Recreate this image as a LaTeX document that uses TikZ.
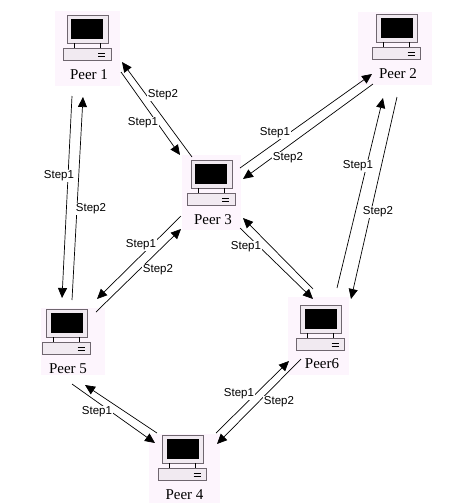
\documentclass[tikz,border=0pt]{standalone}
\usepackage{fontspec}
\setmainfont{Liberation Serif}
\newfontfamily\stepfont{Liberation Sans}
\usetikzlibrary{arrows.meta}

\definecolor{peerpink}{HTML}{FDF5FD}
\definecolor{peeredge}{HTML}{6F666F}
\definecolor{peerface}{HTML}{F1EAF1}

\tikzset{
  peerbox/.style={fill=peerpink,inner sep=0pt},
  peerlabel/.style={inner sep=0pt,font=\fontsize{15}{16}\selectfont},
  steplabel/.style={fill=white,inner sep=0.5pt,font=\stepfont\fontsize{11.5}{12}\selectfont},
  link/.style={line width=0.7pt,-{Triangle[length=10pt,width=9pt]}},
  computer/.pic={
    \draw[peeredge,fill=peerface,line width=0.8pt] (-20,0) rectangle (21,28);
    \fill[black] (-16,4) rectangle (16,24);
    \draw[black,line width=0.8pt] (-13,28) -- (-13,33);
    \draw[black,line width=0.8pt] (13,28) -- (13,33);
    \draw[peeredge,fill=peerface,line width=0.8pt] (-24,33) rectangle (24,45);
    \draw[black,line width=0.8pt] (11,38.5) -- (18,38.5);
    \draw[black,line width=0.8pt] (11,41.5) -- (18,41.5);
  }
}

\begin{document}
\begin{tikzpicture}[x=1pt,y=-1pt]
\useasboundingbox (0,0) rectangle (451,504);
\fill[white] (0,0) rectangle (451,504);

% Peers
\node[peerbox,minimum width=65pt,minimum height=75pt] (p1) at (87.5,48.5) {};
\node[peerbox,minimum width=74pt,minimum height=73pt] (p2) at (395,48.5) {};
\node[peerbox,minimum width=59pt,minimum height=75pt] (p3) at (211.5,192.5) {};
\node[peerbox,minimum width=71pt,minimum height=69pt] (p4) at (184.5,468.5) {};
\node[peerbox,minimum width=64pt,minimum height=67pt] (p5) at (73,341.5) {};
\node[peerbox,minimum width=61pt,minimum height=78pt] (p6) at (318.5,336) {};

\pic at (87,15) {computer};
\pic at (396.5,14) {computer};
\pic at (211,160) {computer};
\pic at (182.5,435) {computer};
\pic at (66.5,309) {computer};
\pic at (320.5,305) {computer};

\node[peerlabel] (name1) at (89,75) {Peer 1};
\node[peerlabel] (name2) at (398,74) {Peer 2};
\node[peerlabel] (name3) at (213,220) {Peer 3};
\node[peerlabel] (name4) at (184.5,495) {Peer 4};
\node[peerlabel] (name5) at (68,369) {Peer 5};
\node[peerlabel] (name6) at (322,364) {Peer6};

% Peer 1 - Peer 5
\draw[link] ([shift={(-15.5,47.5)}]p1.center) -- ([shift={(-11,-43.5)}]p5.center);
\draw[link] ([shift={(-1,-41.5)}]p5.center) -- ([shift={(-4.5,48.5)}]p1.center);
% Peer 1 - Peer 3
\draw[link] ([shift={(33.5,23.5)}]p1.center) -- ([shift={(-31.5,-37.5)}]p3.center);
\draw[link] ([shift={(-19.5,-35.5)}]p3.center) -- ([shift={(34.5,13.5)}]p1.center);
% Peer 3 - Peer 2
\draw[link] ([shift={(28.5,-24.5)}]p3.center) -- ([shift={(-23,25.5)}]p2.center);
\draw[link] ([shift={(-22,35.5)}]p2.center) -- ([shift={(31.5,-13.5)}]p3.center);
% Peer 6 - Peer 2
\draw[link] ([shift={(18.5,-48)}]p6.center) -- ([shift={(-12,49.5)}]p2.center);
\draw[link] ([shift={(2,48.5)}]p2.center) -- ([shift={(32.5,-37)}]p6.center);
% Peer 5 - Peer 3
\draw[link] ([shift={(23,-29.5)}]p5.center) -- ([shift={(-30.5,36.5)}]p3.center);
\draw[link] ([shift={(-30.5,23.5)}]p3.center) -- ([shift={(24,-42.5)}]p5.center);
% Peer 3 - Peer 6
\draw[link] ([shift={(28.5,35.5)}]p3.center) -- ([shift={(-5.5,-37)}]p6.center);
\draw[link] ([shift={(-5.5,-47)}]p6.center) -- ([shift={(31.5,25.5)}]p3.center);
% Peer 4 - Peer 6
\draw[link] ([shift={(31.5,-35.5)}]p4.center) -- ([shift={(-29.5,25)}]p6.center);
\draw[link] ([shift={(-17.5,23)}]p6.center) -- ([shift={(32.5,-24.5)}]p4.center);
% Peer 5 - Peer 4
\draw[link] ([shift={(-1,42.5)}]p5.center) -- ([shift={(-29.5,-25.5)}]p4.center);
\draw[link] ([shift={(-27.5,-35.5)}]p4.center) -- ([shift={(12,43.5)}]p5.center);

% Steps
\node[steplabel] (s1) at (59,176) {Step1};
\node[steplabel] (s2) at (91,209) {Step2};
\node[steplabel] (s3) at (143,123) {Step1};
\node[steplabel] (s4) at (163,95) {Step2};
\node[steplabel] (s5) at (275,133) {Step1};
\node[steplabel] (s6) at (288,158) {Step2};
\node[steplabel] (s7) at (358,166) {Step1};
\node[steplabel] (s8) at (378,212) {Step2};
\node[steplabel] (s9) at (141,245) {Step1};
\node[steplabel] (s10) at (158,270) {Step2};
\node[steplabel] (s11) at (246,247) {Step1};
\node[steplabel] (s12) at (239,394) {Step1};
\node[steplabel] (s13) at (279,402) {Step2};
\node[steplabel] (s14) at (97,412) {Step1};

\end{tikzpicture}
\end{document}
